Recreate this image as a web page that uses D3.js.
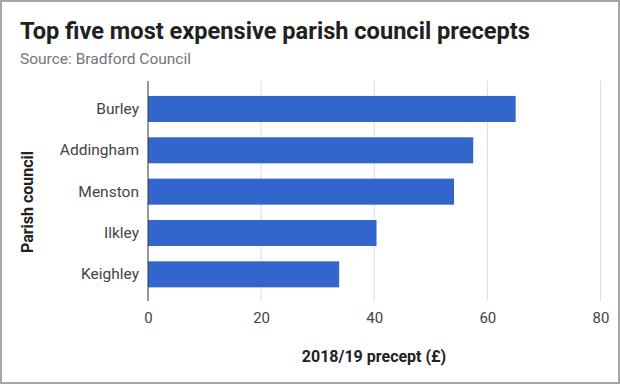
<!DOCTYPE html>
<html>
<head>
<meta charset="utf-8">
<script src="https://cdn.jsdelivr.net/npm/d3@7"></script>
<style>
  body { margin: 0; background: #fff; }
  svg text { font-family: Roboto, "Noto Sans", sans-serif; }
</style>
</head>
<body>
<div id="plot"></div>
<script>
const w = 620;
const h = 384;

const councils = ["Burley", "Addingham", "Menston", "Ilkley", "Keighley"];
const precepts = [65.0, 57.5, 54.1, 40.4, 33.8];
const xTicks = [0, 20, 40, 60, 80];

const plotLeft = 148;
const plotRight = 600.5;
const plotTop = 81;
const plotBottom = 301;

const svg = d3.select("div#plot")
    .append("svg")
    .attr("width", w)
    .attr("height", h);

// outer frame
svg.append("rect")
    .attr("x", 1)
    .attr("y", 1)
    .attr("width", w - 2)
    .attr("height", h - 2)
    .attr("fill", "#fff")
    .attr("stroke", "#a6a6a6")
    .attr("stroke-width", 2);

svg.append("text")
    .attr("x", 20)
    .attr("y", 39)
    .attr("font-size", 23.6)
    .attr("font-weight", "bold")
    .attr("fill", "#212121")
    .text("Top five most expensive parish council precepts");

svg.append("text")
    .attr("x", 20)
    .attr("y", 64)
    .attr("font-size", 15.5)
    .attr("fill", "#757575")
    .text("Source: Bradford Council");

const xScale = d3.scaleLinear()
    .domain([0, 80])
    .range([plotLeft, plotRight]);

const yScale = d3.scaleBand()
    .domain(councils)
    .range([88.3, 295])
    .paddingInner(0.37)
    .paddingOuter(0.185);

// gridlines
svg.append("g")
  .selectAll("line")
    .data(xTicks.slice(1))
  .enter().append("line")
    .attr("x1", d => xScale(d))
    .attr("x2", d => xScale(d))
    .attr("y1", plotTop)
    .attr("y2", plotBottom)
    .attr("stroke", "#dcdcdc")
    .attr("stroke-width", 1);

svg.append("g")
  .selectAll("rect")
    .data(precepts)
  .enter().append("rect")
    .attr("x", xScale(0))
    .attr("y", (d, i) => yScale(councils[i]))
    .attr("width", d => xScale(d) - xScale(0))
    .attr("height", yScale.bandwidth())
    .attr("fill", "#3366cc");

// baseline
svg.append("line")
    .attr("x1", xScale(0))
    .attr("x2", xScale(0))
    .attr("y1", plotTop)
    .attr("y2", plotBottom)
    .attr("stroke", "#333")
    .attr("stroke-width", 1);

const xAxis = d3.axisBottom(xScale)
    .tickValues(xTicks)
    .tickSize(0)
    .tickPadding(0);

const gx = svg.append("g")
    .attr("transform", `translate(0, ${plotBottom + 22})`)
    .call(xAxis);
gx.select(".domain").remove();
gx.selectAll("text")
    .attr("font-size", 15)
    .attr("fill", "#444")
    .attr("dy", 0);

const yAxis = d3.axisLeft(yScale)
    .tickSize(0)
    .tickPadding(0);

const gy = svg.append("g")
    .attr("transform", `translate(${plotLeft - 9}, 0)`)
    .call(yAxis);
gy.select(".domain").remove();
gy.selectAll("text")
    .attr("font-size", 15.5)
    .attr("fill", "#444");

svg.append("text")
    .attr("transform", `translate(33, ${(plotTop + plotBottom) / 2 + 11}) rotate(-90)`)
    .attr("text-anchor", "middle")
    .attr("font-size", 16)
    .attr("font-weight", "bold")
    .attr("fill", "#222")
    .text("Parish council");

svg.append("text")
    .attr("x", 374)
    .attr("y", 362)
    .attr("text-anchor", "middle")
    .attr("font-size", 16)
    .attr("font-weight", "bold")
    .attr("fill", "#222")
    .text("2018/19 precept (£)");
</script>
</body>
</html>
